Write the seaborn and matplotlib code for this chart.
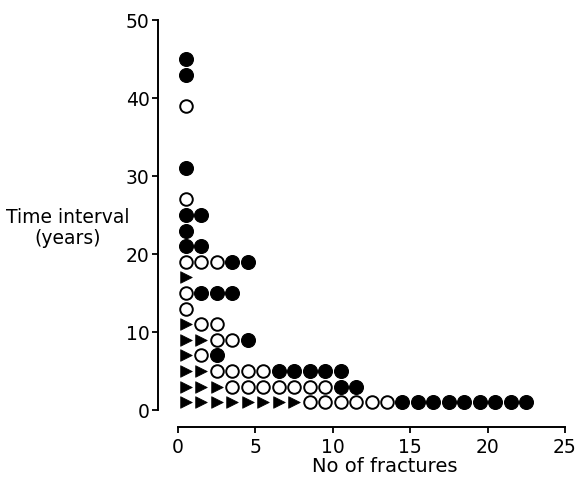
import numpy as np
import pandas as pd
import matplotlib
matplotlib.use("Agg")
import matplotlib.pyplot as plt
import seaborn as sns

# Rows of the dot chart: time interval (years) and counts of each symbol, left to right
time_interval = [1, 3, 5, 7, 9, 11, 13, 15, 17, 19, 21, 23, 25, 27, 31, 39, 43, 45]
n_triangle    = [8, 3, 2, 1, 2, 1, 0, 0, 1, 0, 0, 0, 0, 0, 0, 0, 0, 0]
n_open        = [6, 7, 4, 1, 2, 2, 1, 1, 0, 3, 0, 0, 0, 1, 0, 1, 0, 0]
n_filled      = [9, 2, 5, 1, 1, 0, 0, 3, 0, 2, 2, 1, 2, 0, 1, 0, 1, 1]

x_ticks = [0, 5, 10, 15, 20, 25]
y_ticks = [0, 10, 20, 30, 40, 50]

records = []
for y, nt, no, nf in zip(time_interval, n_triangle, n_open, n_filled):
    kinds = ["triangle"] * nt + ["open"] * no + ["filled"] * nf
    for i, k in enumerate(kinds):
        records.append({"count": i + 0.5, "interval": y, "kind": k})
df = pd.DataFrame(records)

sns.set_theme(style="ticks")
plt.rcParams["font.family"] = ["DejaVu Sans"]

W, H = 578, 483
fig = plt.figure(figsize=(W / 100, H / 100), dpi=100)
ax = fig.add_axes([178 / W, 1 - 410 / H, (565 - 178) / W, (410 - 20) / H])

sns.scatterplot(data=df[df.kind == "filled"], x="count", y="interval", ax=ax,
                marker="o", s=100, color="black", edgecolor="black", linewidth=0.8, legend=False)
sns.scatterplot(data=df[df.kind == "open"], x="count", y="interval", ax=ax,
                marker="o", s=82, facecolor="white", edgecolor="black", linewidth=1.4, legend=False)
sns.scatterplot(data=df[df.kind == "triangle"], x="count", y="interval", ax=ax,
                marker=">", s=70, color="black", edgecolor="black", linewidth=0.5, legend=False)

ax.set_xlim(0, 25)
ax.set_ylim(0, 50)
ax.set_xticks(x_ticks)
ax.set_yticks(y_ticks)
ax.set_xticklabels([str(t) for t in x_ticks])
ax.set_yticklabels([str(t) for t in y_ticks])
ax.tick_params(axis="both", length=4, width=1.3, color="black", pad=2,
               labelcolor="black", labelsize=13.5)
ax.tick_params(axis="x", pad=4)

sns.despine(ax=ax)
ax.spines["left"].set_position(("outward", 14.4))
ax.spines["bottom"].set_position(("outward", 12.2))
for sp in ("left", "bottom"):
    ax.spines[sp].set_linewidth(1.4)
    ax.spines[sp].set_color("black")

ax.set_xlabel("No of fractures", fontsize=14, color="black", va="center")
ax.xaxis.set_label_coords((385 - 178) / (565 - 178), -(467 - 410) / (410 - 20))
ax.set_ylabel("")
fig.text(68 / W, 1 - 228 / H, "Time interval\n(years)", ha="center", va="center",
         fontsize=13.5, color="black", multialignment="center", linespacing=1.1)

fig.savefig("out.png", dpi=100, facecolor="white")
